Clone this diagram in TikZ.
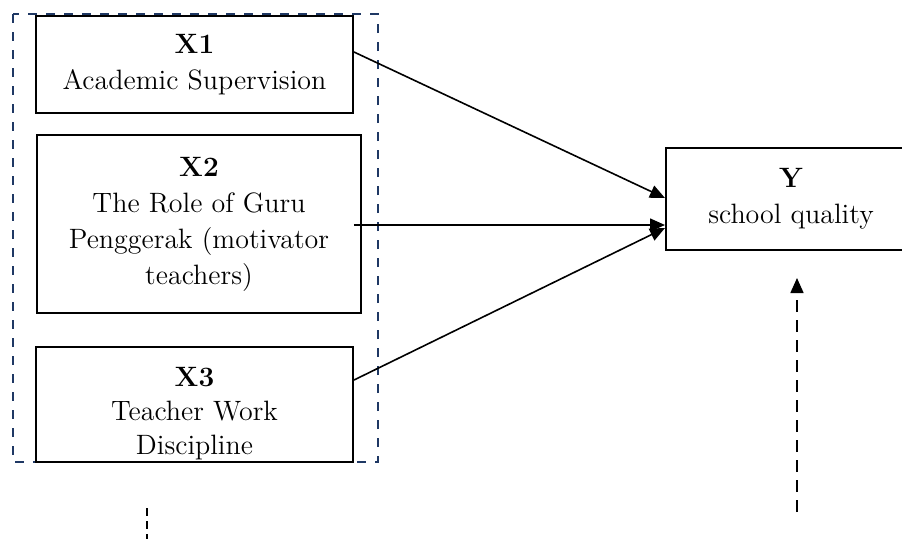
\documentclass[tikz,border=0pt]{standalone}
\usepackage{tikz}
\usetikzlibrary{arrows.meta, positioning}
\definecolor{navy}{HTML}{1F3864}

\begin{document}
\begin{tikzpicture}[x=0.5pt,y=-0.5pt,
	varbox/.style={rectangle,draw,line width=1pt,align=center,inner sep=0pt,font=\fontsize{14}{18}\selectfont},
	flow/.style={-{Triangle[length=7.5pt,width=6.5pt]},line width=0.8pt}]
	\useasboundingbox (0,0) rectangle (902,538);
	% group of the three X variables
	\draw[navy,line width=1.1pt,dash pattern=on 4.5pt off 4.5pt] (13,14) rectangle (378,462);
	\node[varbox,minimum width=158.5pt,minimum height=48.5pt] at (194.5,64.5) (supervision) {\textbf{X1}\\Academic Supervision};
	\node[varbox,line width=0.8pt,minimum width=162pt,minimum height=89pt] at (199,224) (role) {\textbf{X2}\\The Role of Guru\\Penggerak (motivator\\teachers)};
	\node[varbox,minimum width=158.5pt,minimum height=57.5pt,
		label={[anchor=north,yshift=-7pt,align=center,font=\fontsize{14}{17}\selectfont]north:\textbf{X3}\\Teacher Work\\Discipline}] at (194.5,404.5) (discipline) {};
	\node[varbox,minimum width=125pt,minimum height=51pt] at (791,199) (quality) {\textbf{Y}\\school quality};
	\coordinate (qfoot) at (797,512);
	\coordinate (gfoot) at (147,508);
	\draw[flow] ([yshift=6.25pt]supervision.east) -- ([yshift=0.5pt]quality.west);
	\draw[flow] ([xshift=-4pt,yshift=-0.5pt]role.east) -- ([yshift=-13pt]quality.west);
	\draw[flow] ([yshift=12.25pt]discipline.east) -- ([yshift=-14.5pt]quality.west);
	\draw[flow,dash pattern=on 6pt off 4pt] (qfoot) -- ([xshift=3pt,yshift=-13.5pt]quality.south);
	\draw[line width=0.6pt,dash pattern=on 4pt off 2.5pt] (gfoot) -- (147,545);
\end{tikzpicture}
\end{document}
